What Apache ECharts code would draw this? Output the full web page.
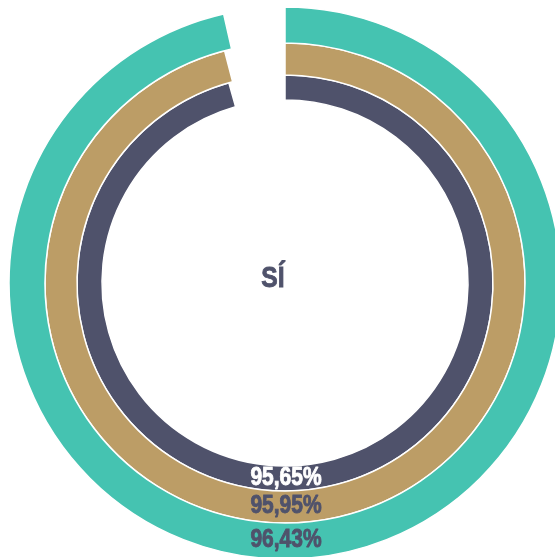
<!DOCTYPE html>
<html><head><meta charset="utf-8">
<script src="https://cdn.jsdelivr.net/npm/echarts@6/dist/echarts.min.js"></script>
<style>html,body{margin:0;padding:0;background:#fff}#c{width:555px;height:557px}</style>
</head><body><div id="c"></div>
<script>
// Rings from inner to outer
var ringValues = [95.65, 95.95, 96.43];
var ringColors = ['#4F526B', '#BC9D66', '#45C3B1'];
var labelColors = ['#FFFFFF', '#4F526B', '#4F526B'];
var centerText = 'SÍ';

var cx = 285, cy = 283;
var radii = [[183, 208], [208, 240], [240, 276]];
var fontFam = 'Liberation Sans';

function fmt(v) { return v.toFixed(2).replace('.', ',') + '%'; }

var series = ringValues.map(function (v, i) {
  return {
    type: 'pie',
    center: [cx, cy],
    radius: radii[i],
    startAngle: 90,
    clockwise: true,
    silent: true,
    label: { show: false },
    labelLine: { show: false },
    itemStyle: { borderColor: '#fff', borderWidth: 1.5 },
    data: [
      { value: v, itemStyle: { color: ringColors[i] } },
      { value: 100 - v, itemStyle: { color: 'rgba(0,0,0,0)', borderWidth: 0 } }
    ]
  };
});

var graphics = ringValues.map(function (v, i) {
  var r = (radii[i][0] + radii[i][1]) / 2;
  return {
    type: 'text',
    z: 100,
    x: cx + 1, y: cy + r - 0.5,
    scaleX: 0.84,
    style: {
      text: fmt(v), fill: labelColors[i],
      stroke: labelColors[i], lineWidth: 0.9,
      fontSize: 25, fontWeight: 'bold', fontFamily: fontFam,
      align: 'center', verticalAlign: 'middle'
    }
  };
});
graphics.push({
  type: 'text', z: 100, x: 273, y: 279, scaleX: 0.85,
  style: { text: centerText, fill: '#4F526B', stroke: '#4F526B', lineWidth: 0.9, fontSize: 29, fontWeight: 'bold', fontFamily: fontFam, align: 'center', verticalAlign: 'middle' }
});

var chart = echarts.init(document.getElementById('c'), null, { renderer: 'canvas' });
chart.setOption({
  animation: false,
  series: series,
  graphic: graphics
});
</script></body></html>
